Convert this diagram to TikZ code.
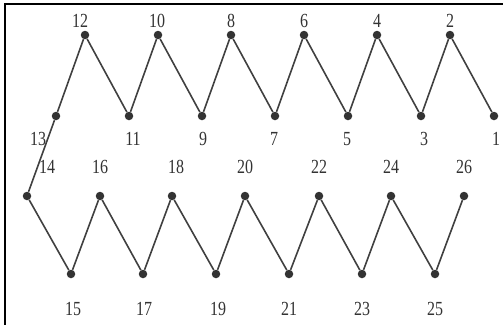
\documentclass[tikz,border=0pt]{standalone}
\usepackage{fontspec}
\setmainfont{Liberation Serif}
\begin{document}
\begin{tikzpicture}[x=1pt,y=-1pt,
  dot/.style={circle,fill=black!80,inner sep=0pt,minimum size=8.5pt},
  lbl/.style={font=\fontsize{20}{20}\selectfont,text=black!80,inner sep=0pt,xscale=0.8},
  edge/.style={draw=black!75,line width=1.6pt},
  frame/.style={draw=black,line width=1.6pt}]
\useasboundingbox (0,0) rectangle (503,325);
\coordinate (tl) at (5,4);
\coordinate (tr) at (503,4);
\coordinate (bl) at (5,325);
\draw[frame] (tr) -- (tl) -- (bl);
% top row
\node[dot] (n1) at (494,116) {};
\node[dot] (n2) at (450,35) {};
\node[dot] (n3) at (421,116) {};
\node[dot] (n4) at (377,35) {};
\node[dot] (n5) at (348,116) {};
\node[dot] (n6) at (304,35) {};
\node[dot] (n7) at (275,116) {};
\node[dot] (n8) at (231,35) {};
\node[dot] (n9) at (202,116) {};
\node[dot] (n10) at (158,35) {};
\node[dot] (n11) at (129,116) {};
\node[dot] (n12) at (85,35) {};
\node[dot] (n13) at (56,116) {};
% bottom row
\node[dot] (n14) at (27,196) {};
\node[dot] (n15) at (71,274) {};
\node[dot] (n16) at (100,196) {};
\node[dot] (n17) at (143,274) {};
\node[dot] (n18) at (172,196) {};
\node[dot] (n19) at (216,274) {};
\node[dot] (n20) at (245,196) {};
\node[dot] (n21) at (289,274) {};
\node[dot] (n22) at (319,196) {};
\node[dot] (n23) at (362,274) {};
\node[dot] (n24) at (391,196) {};
\node[dot] (n25) at (435,274) {};
\node[dot] (n26) at (464,196) {};
\foreach \a/\b in {1/2,2/3,3/4,4/5,5/6,6/7,7/8,8/9,9/10,10/11,11/12,12/13,13/14,14/15,15/16,16/17,17/18,18/19,19/20,20/21,21/22,22/23,23/24,24/25,25/26}
  \draw[edge] (n\a) -- (n\b);
% labels
\node[lbl] (l12) at (80,21) {12};
\node[lbl] (l10) at (157,21) {10};
\node[lbl] (l8) at (231,21) {8};
\node[lbl] (l6) at (304,21) {6};
\node[lbl] (l4) at (377,21) {4};
\node[lbl] (l2) at (450,21) {2};
\node[lbl] (l13) at (38,139) {13};
\node[lbl] (l11) at (133,139) {11};
\node[lbl] (l9) at (203,139) {9};
\node[lbl] (l7) at (274,139) {7};
\node[lbl] (l5) at (347,139) {5};
\node[lbl] (l3) at (424,139) {3};
\node[lbl] (l1) at (496,139) {1};
\node[lbl] (l14) at (47,167) {14};
\node[lbl] (l16) at (100,167) {16};
\node[lbl] (l18) at (176,167) {18};
\node[lbl] (l20) at (245,167) {20};
\node[lbl] (l22) at (319,167) {22};
\node[lbl] (l24) at (391,167) {24};
\node[lbl] (l26) at (464,167) {26};
\node[lbl] (l15) at (73,309) {15};
\node[lbl] (l17) at (144,309) {17};
\node[lbl] (l19) at (218,309) {19};
\node[lbl] (l21) at (289,309) {21};
\node[lbl] (l23) at (362,309) {23};
\node[lbl] (l25) at (435,309) {25};
\end{tikzpicture}
\end{document}
